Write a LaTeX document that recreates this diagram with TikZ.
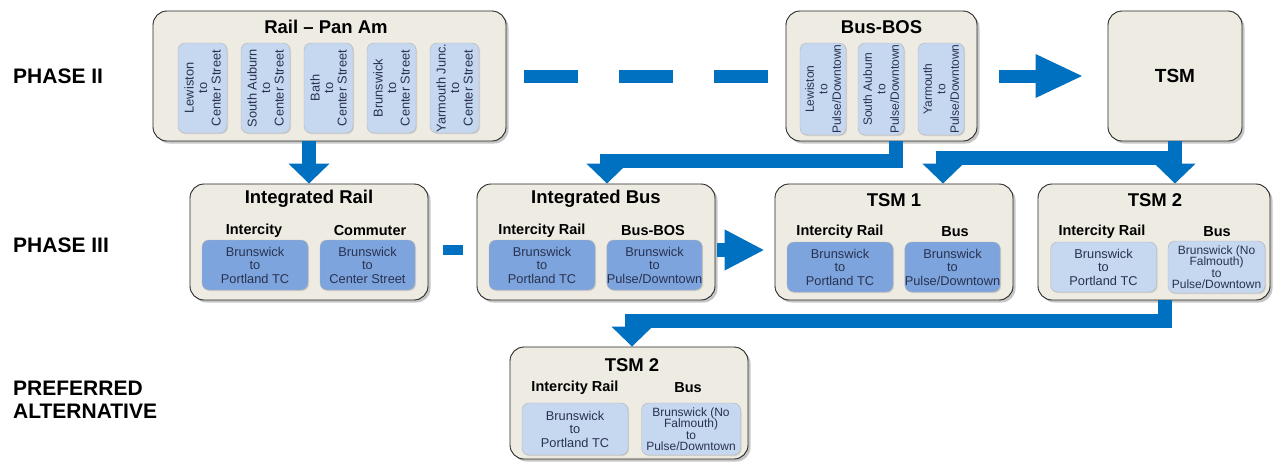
\documentclass[tikz,border=0pt]{standalone}
\usepackage{fontspec}
\setmainfont{Liberation Sans}
\usetikzlibrary{arrows.meta,shadows}

\definecolor{flowblue}{RGB}{0,112,192}
\definecolor{panelfill}{RGB}{238,236,226}
\definecolor{lightcell}{RGB}{198,215,240}
\definecolor{midcell}{RGB}{126,164,222}
\definecolor{celltext}{RGB}{40,50,80}

\begin{document}
\begin{tikzpicture}[x=1pt, y=-1pt, every node/.style={font=\fontsize{12.8}{13.5}\selectfont}]

	\useasboundingbox (0,0) rectangle (1273,461);

	% Styles for the phase panels, the route cells and the blue connectors
	\tikzset{
		panel/.style 2 args={draw=black!85, line width=0.9pt, rounded corners=14pt, fill=panelfill,
			drop shadow={shadow xshift=2.5pt, shadow yshift=-2.5pt, opacity=0.45},
			minimum width=#1, minimum height=#2, inner sep=0pt},
		cell/.style 2 args={rounded corners=7pt, draw=black!30, line width=0.4pt, fill=lightcell,
			drop shadow={shadow xshift=1pt, shadow yshift=-1pt, opacity=0.25},
			text=celltext, align=center, inner sep=0pt, minimum width=#1, minimum height=#2},
		deep/.style={fill=midcell},
		vcell/.style={rotate=90, font=\fontsize{12.8}{13.5}\selectfont},
		heading/.style={font=\bfseries\fontsize{18.5}{20}\selectfont},
		subheading/.style={font=\bfseries\fontsize{14.5}{16}\selectfont},
		phase/.style={anchor=west, align=left, inner sep=0pt, font=\bfseries\fontsize{21}{23.5}\selectfont},
		flow/.style={draw=flowblue, line width=14pt, line join=miter, -{Triangle[width=40pt, length=20pt]}},
		dashbar/.style={draw=flowblue, line width=13pt, dash pattern=on 54pt off 41pt}
	};

	% Phase labels down the left edge
	\node[phase] (phaseII) at (13,76) {PHASE II};
	\node[phase] (phaseIII) at (13,245) {PHASE III};
	\node[phase] (preferred) at (13,400) {PREFERRED\\ALTERNATIVE};

	% Phase II: Rail - Pan Am and its five rail routes
	\node[panel={353pt}{130pt}] (rail) at (329.5,76) {};
	\node[heading] (railT) at (326,27) {Rail – Pan Am};
	\node[cell={90pt}{49pt}, vcell] (lewistonR) at (202.5,88) {Lewiston\\to\\Center Street};
	\node[cell={90pt}{49pt}, vcell] (auburnR) at (265.5,88) {South Auburn\\to\\Center Street};
	\node[cell={90pt}{49pt}, vcell] (bathR) at (328.5,88) {Bath\\to\\Center Street};
	\node[cell={90pt}{49pt}, vcell] (brunswickR) at (391.5,88) {Brunswick\\to\\Center Street};
	\node[cell={90pt}{49pt}, vcell] (yarmouthR) at (454.5,88) {Yarmouth Junc.\\to\\Center Street};

	% Phase II: Bus-BOS and its three bus routes
	\node[panel={191pt}{130pt}] (busbos) at (881.5,76) {};
	\node[heading] (busbosT) at (881.5,27) {Bus-BOS};
	\node[cell={92pt}{46pt}, vcell, font=\fontsize{12}{13.5}\selectfont] (lewistonB) at (823,89) {Lewiston\\to\\Pulse/Downtown};
	\node[cell={92pt}{46pt}, vcell, font=\fontsize{12}{13.5}\selectfont] (auburnB) at (881,89) {South Auburn\\to\\Pulse/Downtown};
	\node[cell={92pt}{46pt}, vcell, font=\fontsize{12}{13.5}\selectfont] (yarmouthB) at (941,89) {Yarmouth\\to\\Pulse/Downtown};

	% Phase II: TSM
	\node[panel={134pt}{130pt}, font=\bfseries\fontsize{19}{21}\selectfont] (tsm) at (1175,76) {TSM};

	% Phase III: Integrated Rail
	\node[panel={238pt}{116pt}] (intrail) at (309,242) {};
	\node[heading] (intrailT) at (309,199) {Integrated Rail};
	\node[subheading] (intrailA) at (254,231) {Intercity};
	\node[subheading] (intrailB) at (370,231) {Commuter};
	\node[cell={106pt}{50pt}, deep] (intrailL) at (255,265) {Brunswick\\to\\Portland TC};
	\node[cell={95pt}{50pt}, deep] (intrailR) at (367.5,265) {Brunswick\\to\\Center Street};

	% Phase III: Integrated Bus
	\node[panel={238pt}{116pt}] (intbus) at (596,242) {};
	\node[heading] (intbusT) at (596,199) {Integrated Bus};
	\node[subheading] (intbusA) at (542,231) {Intercity Rail};
	\node[subheading] (intbusB) at (653,231) {Bus-BOS};
	\node[cell={106pt}{50pt}, deep] (intbusL) at (542,265) {Brunswick\\to\\Portland TC};
	\node[cell={95pt}{50pt}, deep] (intbusR) at (654.5,265) {Brunswick\\to\\Pulse/Downtown};

	% Phase III: TSM 1
	\node[panel={238pt}{116pt}] (tsmone) at (894,242) {};
	\node[heading] (tsmoneT) at (894,200) {TSM 1};
	\node[subheading] (tsmoneA) at (840,232) {Intercity Rail};
	\node[subheading] (tsmoneB) at (955,232) {Bus};
	\node[cell={106pt}{50pt}, deep] (tsmoneL) at (840,267) {Brunswick\\to\\Portland TC};
	\node[cell={95pt}{50pt}, deep] (tsmoneR) at (952.5,267) {Brunswick\\to\\Pulse/Downtown};

	% Phase III: TSM 2
	\node[panel={232pt}{116pt}] (tsmtwo) at (1154,242) {};
	\node[heading] (tsmtwoT) at (1155,200) {TSM 2};
	\node[subheading] (tsmtwoA) at (1102,232) {Intercity Rail};
	\node[subheading] (tsmtwoB) at (1217,232) {Bus};
	\node[cell={106pt}{50pt}] (tsmtwoL) at (1103.5,267) {Brunswick\\to\\Portland TC};
	\node[cell={97pt}{52pt}, font=\fontsize{12}{11.5}\selectfont] (tsmtwoR) at (1216.5,267) {Brunswick (No\\Falmouth)\\to\\Pulse/Downtown};

	% Preferred alternative: TSM 2
	\node[panel={238pt}{112pt}] (pref) at (629,403) {};
	\node[heading] (prefT) at (632,365) {TSM 2};
	\node[subheading] (prefA) at (575,388) {Intercity Rail};
	\node[subheading] (prefB) at (688,388) {Bus};
	\node[cell={106pt}{52pt}] (prefL) at (575,429) {Brunswick\\to\\Portland TC};
	\node[cell={99pt}{52pt}, font=\fontsize{12}{11.5}\selectfont] (prefR) at (691,429) {Brunswick (No\\Falmouth)\\to\\Pulse/Downtown};

	% Connectors along phase II
	\draw[dashbar, shorten <=18pt, shorten >=18pt] (rail.east) -- (busbos.west);
	\draw[flow, line width=13pt, -{Triangle[width=40pt, length=48pt]}, shorten <=22pt, shorten >=24pt] (busbos.east) -- (tsm.west);

	% Connectors from phase II down to phase III
	\draw[flow] (rail.south -| intrail.north) -- (intrail.north);
	\draw[flow] ([xshift=14pt]busbos.south) -- ++(0,20) -| ([xshift=11pt]intbus.north);
	\draw[flow] (tsm.south) -- ++(0,17) -| ([xshift=49pt]tsmone.north);
	\draw[flow] (tsm.south) -- (tsm.south |- tsmtwo.north);

	% Connectors along phase III
	\draw[flowblue, line width=10pt, shorten <=15pt, shorten >=14pt] ([yshift=-8pt]intrail.east) -- ([yshift=-8pt]intbus.west);
	\draw[flow, -{Triangle[width=38pt, length=40pt]}, shorten <=2pt, shorten >=10pt] ([yshift=-8pt]intbus.east) -- ([yshift=-8pt]tsmone.west);

	% Connector down to the preferred alternative
	\draw[flow] ([xshift=11pt]tsmtwo.south) -- ++(0,21) -| ([xshift=3pt]pref.north);

\end{tikzpicture}
\end{document}
